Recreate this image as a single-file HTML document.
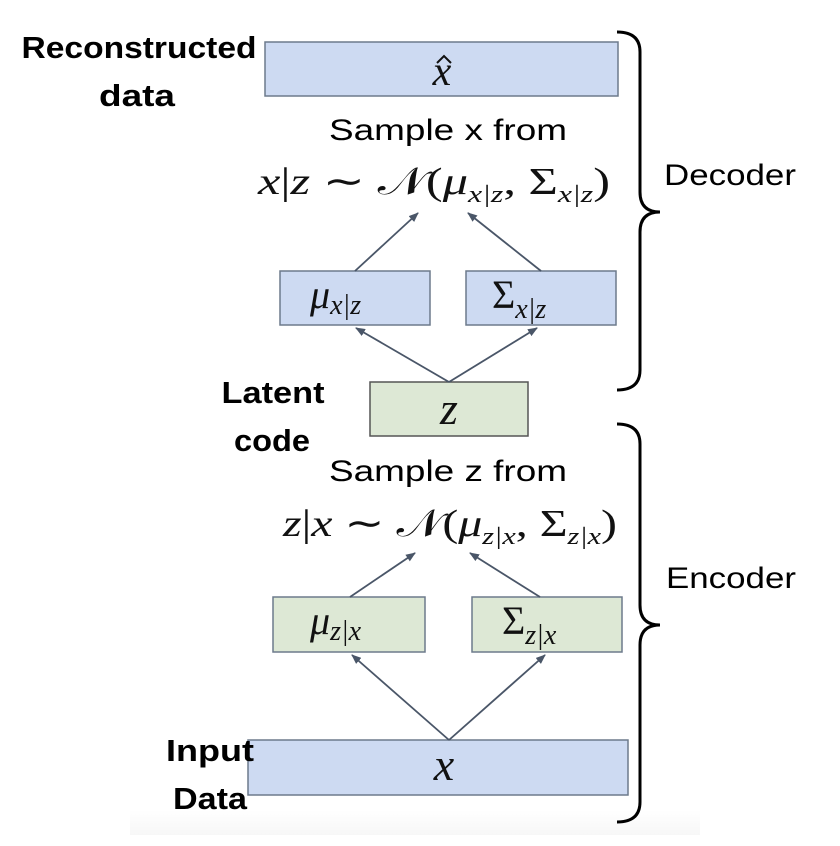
<!DOCTYPE html>
<html><head><meta charset="utf-8"><style>
html,body{margin:0;padding:0;background:#fff;}
svg{display:block}
.b{font-family:"Liberation Sans",sans-serif;font-weight:bold;font-size:31px;fill:#000}
.r{font-family:"Liberation Sans",sans-serif;font-size:30px;fill:#000}
.m{font-family:"Liberation Serif",serif;font-style:italic;fill:#111}
.u{font-family:"Liberation Serif",serif;font-style:normal;fill:#111}
</style></head><body>
<svg width="840" height="846" viewBox="0 0 840 846">
<defs>
<marker id="a" markerWidth="10" markerHeight="8" refX="9" refY="4" orient="auto" markerUnits="userSpaceOnUse">
<path d="M0,0 L10,4 L0,8 z" fill="#4a5668"/></marker>
<linearGradient id="g" x1="0" y1="0" x2="0" y2="1"><stop offset="0" stop-color="#fff"/><stop offset="1" stop-color="#f7f7f7"/></linearGradient>
</defs>
<rect x="130" y="810" width="570" height="25" fill="url(#g)"/>
<rect x="265" y="42" width="353" height="54" fill="#cddaf2" stroke="#6d7a8c" stroke-width="1.5"/>
<rect x="280" y="271" width="150" height="54" fill="#cddaf2" stroke="#6d7a8c" stroke-width="1.5"/>
<rect x="466" y="271" width="150" height="54" fill="#cddaf2" stroke="#6d7a8c" stroke-width="1.5"/>
<rect x="370" y="382" width="158" height="54" fill="#dde8d5" stroke="#555" stroke-width="1.5"/>
<rect x="273" y="597" width="152" height="55" fill="#dde8d5" stroke="#6d7a8c" stroke-width="1.5"/>
<rect x="472" y="597" width="150" height="55" fill="#dde8d5" stroke="#6d7a8c" stroke-width="1.5"/>
<rect x="248" y="740" width="380" height="55" fill="#cddaf2" stroke="#6d7a8c" stroke-width="1.5"/>
<g stroke="#4a5668" stroke-width="1.8" fill="none" marker-end="url(#a)">
<line x1="449" y1="382" x2="356" y2="328"/>
<line x1="449" y1="382" x2="537" y2="328"/>
<line x1="355" y1="271" x2="418" y2="213"/>
<line x1="541" y1="271" x2="468" y2="213"/>
<line x1="449" y1="740" x2="352" y2="655"/>
<line x1="449" y1="740" x2="545" y2="655"/>
<line x1="350" y1="597" x2="415" y2="553"/>
<line x1="540" y1="597" x2="470" y2="553"/>
</g>
<g stroke="#000" stroke-width="3" fill="none">
<path d="M617,32 Q640,32 640,52 L640,192 Q640,212 660,212 Q640,212 640,232 L640,370 Q640,390 617,390"/>
<path d="M617,424 Q640,424 640,444 L640,605 Q640,625 660,625 Q640,625 640,645 L640,802 Q640,822 617,822"/>
</g>
<text class="b" x="139" y="58" text-anchor="middle" textLength="235" lengthAdjust="spacingAndGlyphs">Reconstructed</text>
<text class="b" x="137" y="106" text-anchor="middle" textLength="76" lengthAdjust="spacingAndGlyphs">data</text>
<text class="b" x="273" y="403" text-anchor="middle" textLength="103" lengthAdjust="spacingAndGlyphs">Latent</text>
<text class="b" x="272" y="451" text-anchor="middle" textLength="76" lengthAdjust="spacingAndGlyphs">code</text>
<text class="b" x="210" y="761" text-anchor="middle" textLength="88" lengthAdjust="spacingAndGlyphs">Input</text>
<text class="b" x="210" y="809" text-anchor="middle" textLength="74" lengthAdjust="spacingAndGlyphs">Data</text>
<text class="r" x="664" y="185" textLength="132" lengthAdjust="spacingAndGlyphs">Decoder</text>
<text class="r" x="666" y="588" textLength="130" lengthAdjust="spacingAndGlyphs">Encoder</text>
<text class="r" x="448" y="140" text-anchor="middle" textLength="238" lengthAdjust="spacingAndGlyphs">Sample x from</text>
<text class="r" x="448" y="481" text-anchor="middle" textLength="238" lengthAdjust="spacingAndGlyphs">Sample z from</text>
<text class="m" x="442" y="85" font-size="42" text-anchor="middle">x</text>
<path d="M437,63 L444,56 L451,63" stroke="#111" stroke-width="2" fill="none"/>
<text class="m" x="258" y="194" font-size="38" textLength="352" lengthAdjust="spacingAndGlyphs">x<tspan class="u">|</tspan>z <tspan class="u">∼ 𝒩(</tspan>μ<tspan font-size="24" dy="8">x|z</tspan><tspan dy="-8" class="u">, Σ</tspan><tspan font-size="24" dy="8">x|z</tspan><tspan dy="-8" class="u">)</tspan></text>
<text class="m" x="310" y="308" font-size="40">μ<tspan font-size="28" dy="6">x|z</tspan></text>
<text class="u" x="492" y="308" font-size="40">Σ<tspan class="m" font-size="28" dy="10">x|z</tspan></text>
<text class="m" x="449" y="424" font-size="46" text-anchor="middle">z</text>
<text class="m" x="283" y="536" font-size="38" textLength="334" lengthAdjust="spacingAndGlyphs">z<tspan class="u">|</tspan>x <tspan class="u">∼ 𝒩(</tspan>μ<tspan font-size="24" dy="8">z|x</tspan><tspan dy="-8" class="u">, Σ</tspan><tspan font-size="24" dy="8">z|x</tspan><tspan dy="-8" class="u">)</tspan></text>
<text class="m" x="310" y="634" font-size="40">μ<tspan font-size="28" dy="6">z|x</tspan></text>
<text class="u" x="502" y="634" font-size="40">Σ<tspan class="m" font-size="28" dy="10">z|x</tspan></text>
<text class="m" x="444" y="780" font-size="46" text-anchor="middle">x</text>
</svg>
</body></html>
